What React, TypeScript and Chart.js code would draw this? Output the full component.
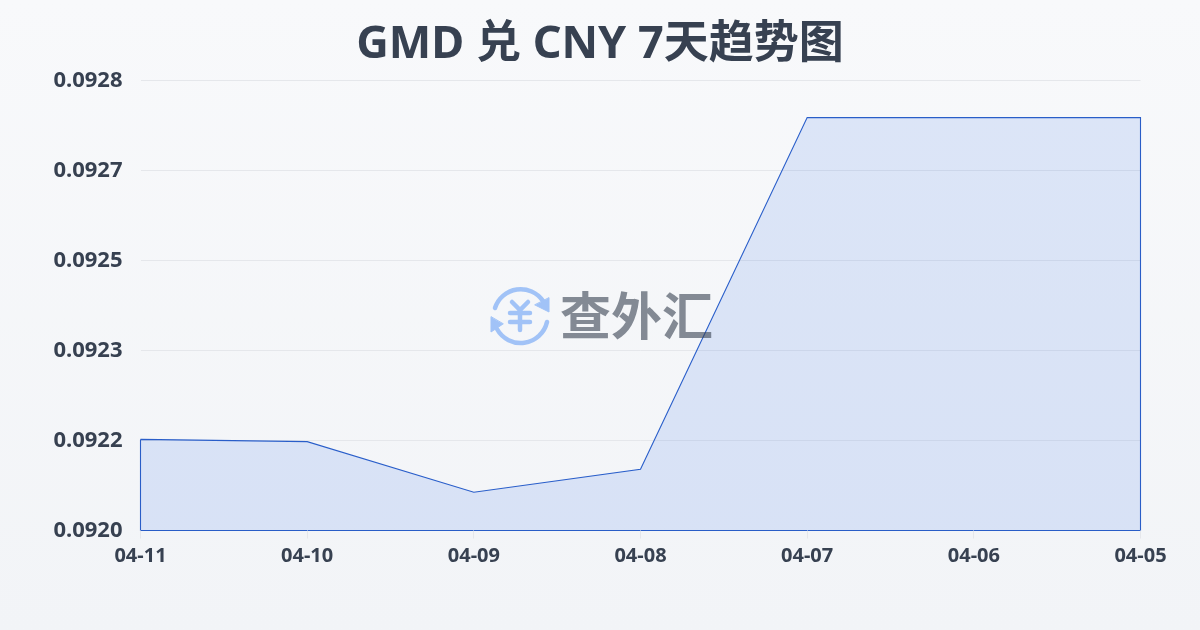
import React, { useEffect, useRef } from "react";
import { Chart, registerables } from "chart.js";

Chart.register(...registerables);

const titleText = "GMD 兑 CNY 7天趋势图";
const categories = ["04-11", "04-10", "04-09", "04-08", "04-07", "04-06", "04-05"];
const rates = [0.092174, 0.09217, 0.09208, 0.092121, 0.092746, 0.092746, 0.092746];
const axisMin = 0.092012;
const axisMax = 0.092812;
const axisStep = 0.00016;
const fontStack = '"Noto Sans", "Noto Sans CJK SC", sans-serif';
const textColor = "#374151";
const lineColor = "#2a5ec8";

export default function App() {
  const ref = useRef<HTMLCanvasElement | null>(null);
  useEffect(() => {
    document.body.style.margin = "0";
    const outline = [
      ...categories.map((c, i) => ({ x: c, y: rates[i] })),
      { x: categories[categories.length - 1], y: axisMin },
      { x: categories[0], y: axisMin },
      { x: categories[0], y: rates[0] },
    ];
    const chart = new Chart(ref.current!, {
      type: "line",
      data: {
        labels: categories,
        datasets: [
          {
            data: rates,
            borderWidth: 0,
            pointRadius: 0,
            tension: 0,
            fill: "start",
            backgroundColor: "rgba(37,99,235,0.13)",
          },
          {
            data: outline as any,
            borderColor: lineColor,
            borderWidth: 1.1,
            pointRadius: 0,
            tension: 0,
            fill: false,
            clip: false as any,
          },
        ],
      },
      options: {
        animation: false,
        responsive: false,
        devicePixelRatio: 1,
        plugins: {
          legend: { display: false },
          tooltip: { enabled: false },
          title: {
            display: true,
            text: titleText,
            color: textColor,
            font: { family: fontStack, size: 45, weight: "bold" },
            padding: { top: 18, bottom: 8.5 },
          },
        },
        scales: {
          x: {
            afterFit: (s: any) => { s.height = 99.5; },
            grid: { display: false, drawOnChartArea: false },
            border: { display: false },
            ticks: {
              color: textColor,
              maxRotation: 0,
              autoSkip: false,
              padding: 6,
              font: { family: fontStack, size: 20, weight: "bold" },
            },
          },
          y: {
            min: axisMin,
            max: axisMax,
            afterFit: (s: any) => { s.width = 140.5; },
            afterBuildTicks: (s: any) => {
              s.ticks = [0, 1, 2, 3, 4, 5].map((i) => ({ value: axisMin + i * axisStep }));
            },
            grid: { color: "#e5e7eb", lineWidth: 1, drawTicks: false },
            border: { display: false },
            ticks: {
              color: textColor,
              padding: 18,
              callback: (v: any) => Number(v).toFixed(4),
              font: { family: fontStack, size: 22, weight: "bold" },
            },
          },
          rightGutter: {
            type: "linear",
            position: "right",
            afterFit: (s: any) => { s.width = 59.5; },
            grid: { display: false },
            border: { display: false },
            ticks: { display: false },
          },
        },
      },
      plugins: [
        {
          id: "xTickMarks",
          afterDraw(c: any) {
            const { ctx, scales } = c;
            ctx.save();
            ctx.strokeStyle = "#e5e7eb";
            ctx.beginPath();
            categories.forEach((_, i) => {
              const x = Math.round(scales.x.getPixelForTick(i) - 0.5) + 0.5;
              ctx.moveTo(x, c.chartArea.bottom);
              ctx.lineTo(x, c.chartArea.bottom + 8);
            });
            ctx.stroke();
            ctx.restore();
          },
        },
      ],
    });
    return () => chart.destroy();
  }, []);
  return (
    <div style={{ position: "relative", width: 1200, height: 630, background: "linear-gradient(180deg,#f8f9fb,#f2f4f7)", overflow: "hidden" }}>
      <canvas ref={ref} width={1200} height={630} style={{ display: "block" }} />
      <div style={{ position: "absolute", left: 489, top: 284, display: "flex", alignItems: "center", opacity: 0.6, pointerEvents: "none" }}>
        <svg width="62" height="62" viewBox="0 0 62 62" fill="none" stroke="#6aa1f5" strokeLinecap="round">
          <path d="M6 24 A27 27 0 0 1 54 17" strokeWidth="4.5" />
          <path d="M58 38 A27 27 0 0 1 8 45" strokeWidth="4.5" />
          <path d="M60 14 L60 28 L46 21 Z" fill="#6aa1f5" stroke="#6aa1f5" strokeWidth="1" />
          <path d="M2 33 L2 48 L14 40 Z" fill="#6aa1f5" stroke="#6aa1f5" strokeWidth="1" />
          <path d="M23 18 L31 26 L39 18 M21 29 H41 M21 38 H41 M31 26 V46" strokeWidth="4.5" />
        </svg>
        <span style={{ marginLeft: 9, marginTop: -4, font: 'bold 51px "Noto Sans CJK SC", sans-serif', color: "#374151", lineHeight: "62px" }}>查外汇</span>
      </div>
    </div>
  );
}
